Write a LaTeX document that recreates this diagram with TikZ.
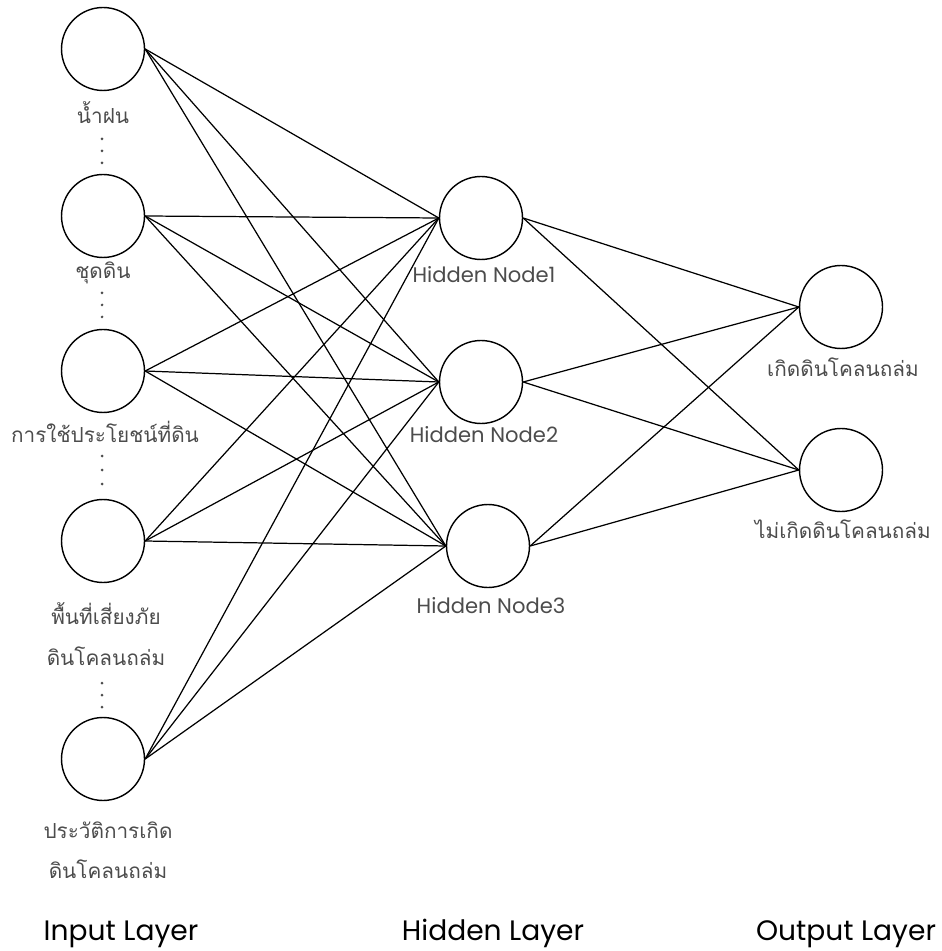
\documentclass[tikz,border=0pt]{standalone}
\usepackage{fontspec}
\setmainfont{Poppins}
\newfontfamily\thaifont[Script=Thai]{Loma}
\usetikzlibrary{math}
\definecolor{labelgray}{gray}{0.3}

\begin{document}
\begin{tikzpicture}[
neuron/.style={draw,circle,line width=0.8pt,inner sep=0pt,minimum size=1.66cm},
link/.style={line width=0.7pt},
thailabel/.style={anchor=base,text=labelgray,font=\thaifont\fontsize{11.8}{14}\selectfont},
nodelabel/.style={anchor=base,text=labelgray,font=\fontsize{12}{14}\selectfont},
layerlabel/.style={anchor=base,font=\fontsize{16}{18}\selectfont}
]

\tikzmath{
\scale = 0.02;
}

\useasboundingbox (0,0) rectangle (941*\scale,-951*\scale);

\node[neuron] (rain) at (103*\scale,-49*\scale) {};
\node[neuron] (soil) at (103*\scale,-216*\scale) {};
\node[neuron] (landuse) at (103*\scale,-371*\scale) {};
\node[neuron] (risk) at (103*\scale,-541*\scale) {};
\node[neuron] (history) at (103*\scale,-759*\scale) {};

\node[thailabel] (rainlbl) at (103*\scale,-124*\scale) {น้ำฝน};
\node[thailabel] (soillbl) at (103*\scale,-279*\scale) {ชุดดิน};
\node[thailabel] (landuselbl) at (105*\scale,-443*\scale) {การใช้ประโยชน์ที่ดิน};
\node[thailabel] (risklbla) at (106*\scale,-624*\scale) {พื้นที่เสี่ยงภัย};
\node[thailabel] (risklblb) at (106*\scale,-665*\scale) {ดินโคลนถล่ม};
\node[thailabel] (historylbla) at (108*\scale,-838*\scale) {ประวัติการเกิด};
\node[thailabel] (historylblb) at (108*\scale,-878*\scale) {ดินโคลนถล่ม};

\fill[labelgray] (102*\scale,-139*\scale) circle(1.5*\scale);
\fill[labelgray] (102*\scale,-151*\scale) circle(1.5*\scale);
\fill[labelgray] (102*\scale,-163*\scale) circle(1.5*\scale);
\fill[labelgray] (102*\scale,-293*\scale) circle(1.5*\scale);
\fill[labelgray] (102*\scale,-305*\scale) circle(1.5*\scale);
\fill[labelgray] (102*\scale,-317*\scale) circle(1.5*\scale);
\fill[labelgray] (102*\scale,-456*\scale) circle(1.5*\scale);
\fill[labelgray] (102*\scale,-470*\scale) circle(1.5*\scale);
\fill[labelgray] (102*\scale,-484*\scale) circle(1.5*\scale);
\fill[labelgray] (102*\scale,-683*\scale) circle(1.5*\scale);
\fill[labelgray] (102*\scale,-695*\scale) circle(1.5*\scale);
\fill[labelgray] (102*\scale,-707*\scale) circle(1.5*\scale);


\node[neuron] (hid1) at (481*\scale,-218*\scale) {};
\node[neuron] (hid2) at (481*\scale,-382*\scale) {};
\node[neuron] (hid3) at (488*\scale,-546*\scale) {};

\node[nodelabel] (hid1lbl) at (484*\scale,-283*\scale) {Hidden Node1};
\node[nodelabel] (hid2lbl) at (484*\scale,-443*\scale) {Hidden Node2};
\node[nodelabel] (hid3lbl) at (491*\scale,-613*\scale) {Hidden Node3};


\node[neuron] (slide) at (841*\scale,-307*\scale) {};
\node[neuron] (noslide) at (841*\scale,-470*\scale) {};

\node[thailabel] (slidelbl) at (843*\scale,-377*\scale) {เกิดดินโคลนถล่ม};
\node[thailabel] (noslidelbl) at (843*\scale,-538*\scale) {ไม่เกิดดินโคลนถล่ม};


\draw[link] (rain.east) -- (hid1.west);
\draw[link] (rain.east) -- (hid2.west);
\draw[link] (rain.east) -- (hid3.west);
\draw[link] (soil.east) -- (hid1.west);
\draw[link] (soil.east) -- (hid2.west);
\draw[link] (soil.east) -- (hid3.west);
\draw[link] (landuse.east) -- (hid1.west);
\draw[link] (landuse.east) -- (hid2.west);
\draw[link] (landuse.east) -- (hid3.west);
\draw[link] (risk.east) -- (hid1.west);
\draw[link] (risk.east) -- (hid2.west);
\draw[link] (risk.east) -- (hid3.west);
\draw[link] (history.east) -- (hid1.west);
\draw[link] (history.east) -- (hid2.west);
\draw[link] (history.east) -- (hid3.west);

\draw[link] (hid1.east) -- (slide.west);
\draw[link] (hid1.east) -- (noslide.west);
\draw[link] (hid2.east) -- (slide.west);
\draw[link] (hid2.east) -- (noslide.west);
\draw[link] (hid3.east) -- (slide.west);
\draw[link] (hid3.east) -- (noslide.west);


\node[layerlabel] (inputlayer) at (121*\scale,-940*\scale) {Input Layer};
\node[layerlabel] (hiddenlayer) at (493*\scale,-940*\scale) {Hidden Layer};
\node[layerlabel] (outputlayer) at (846*\scale,-940*\scale) {Output Layer};

\end{tikzpicture}
\end{document}
